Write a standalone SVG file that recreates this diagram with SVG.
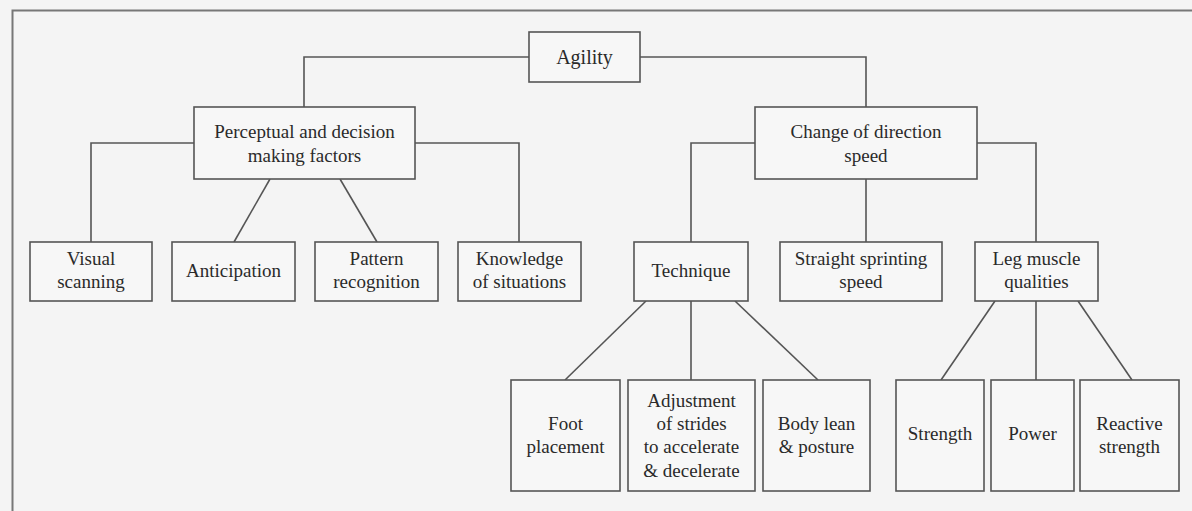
<svg xmlns="http://www.w3.org/2000/svg" width="1192" height="511" viewBox="0 0 1192 511">
<style>
.bx{fill:#f7f7f7;stroke:#555;stroke-width:1.6}
.ln{fill:none;stroke:#555;stroke-width:1.6}
.fr{fill:none;stroke:#777;stroke-width:2}
text{font-family:"Liberation Serif","Times New Roman",serif;font-size:19px;fill:#2a2a2a;text-anchor:middle}
</style>
<rect width="1192" height="511" fill="#f4f4f4"/>
<path class="fr" d="M12.5 511 V10.5 H1192"/>
<g id="connectors">
<path class="ln" d="M529 57 H304 V107"/>
<path class="ln" d="M640 57 H866 V107"/>
<path class="ln" d="M194 143 H91 V242"/>
<path class="ln" d="M415 143 H519 V242"/>
<path class="ln" d="M270 179 L234 242"/>
<path class="ln" d="M340 179 L377 242"/>
<path class="ln" d="M755 143 H691 V242"/>
<path class="ln" d="M977 143 H1036 V242"/>
<path class="ln" d="M866 179 V242"/>
<path class="ln" d="M646 301 L565 380"/>
<path class="ln" d="M691 301 V380"/>
<path class="ln" d="M735 301 L818 380"/>
<path class="ln" d="M995 301 L941 380"/>
<path class="ln" d="M1036 301 V380"/>
<path class="ln" d="M1078 301 L1132 380"/>
</g>
<g id="agility"><rect class="bx" x="529" y="32" width="111" height="50"/><text x="584.5" y="64" style="font-size:20px">Agility</text></g>
<g id="perceptual"><rect class="bx" x="194" y="107" width="221" height="72"/><text x="304.5" y="138">Perceptual and decision</text><text x="304.5" y="162">making factors</text></g>
<g id="change"><rect class="bx" x="755" y="107" width="222" height="72"/><text x="866" y="138">Change of direction</text><text x="866" y="162">speed</text></g>
<g id="visual"><rect class="bx" x="30" y="242" width="122" height="59"/><text x="91" y="265">Visual</text><text x="91" y="288">scanning</text></g>
<g id="anticipation"><rect class="bx" x="172" y="242" width="123" height="59"/><text x="233.5" y="277">Anticipation</text></g>
<g id="pattern"><rect class="bx" x="315" y="242" width="123" height="59"/><text x="376.5" y="265">Pattern</text><text x="376.5" y="288">recognition</text></g>
<g id="knowledge"><rect class="bx" x="458" y="242" width="123" height="59"/><text x="519.5" y="265">Knowledge</text><text x="519.5" y="288">of situations</text></g>
<g id="technique"><rect class="bx" x="634" y="242" width="114" height="59"/><text x="691" y="277">Technique</text></g>
<g id="straight"><rect class="bx" x="780" y="242" width="162" height="59"/><text x="861" y="265">Straight sprinting</text><text x="861" y="288">speed</text></g>
<g id="legmuscle"><rect class="bx" x="975" y="242" width="123" height="59"/><text x="1036.5" y="265">Leg muscle</text><text x="1036.5" y="288">qualities</text></g>
<g id="foot"><rect class="bx" x="511" y="380" width="109" height="111"/><text x="565.5" y="430">Foot</text><text x="565.5" y="453">placement</text></g>
<g id="adjustment"><rect class="bx" x="628" y="380" width="127" height="111"/><text x="691.5" y="407">Adjustment</text><text x="691.5" y="430">of strides</text><text x="691.5" y="453">to accelerate</text><text x="691.5" y="477">&amp; decelerate</text></g>
<g id="bodylean"><rect class="bx" x="763" y="380" width="107" height="111"/><text x="816.5" y="430">Body lean</text><text x="816.5" y="453">&amp; posture</text></g>
<g id="strength"><rect class="bx" x="896" y="380" width="88" height="111"/><text x="940" y="440">Strength</text></g>
<g id="power"><rect class="bx" x="991" y="380" width="83" height="111"/><text x="1032.5" y="440">Power</text></g>
<g id="reactive"><rect class="bx" x="1080" y="380" width="99" height="111"/><text x="1129.5" y="430">Reactive</text><text x="1129.5" y="453">strength</text></g>
</svg>
